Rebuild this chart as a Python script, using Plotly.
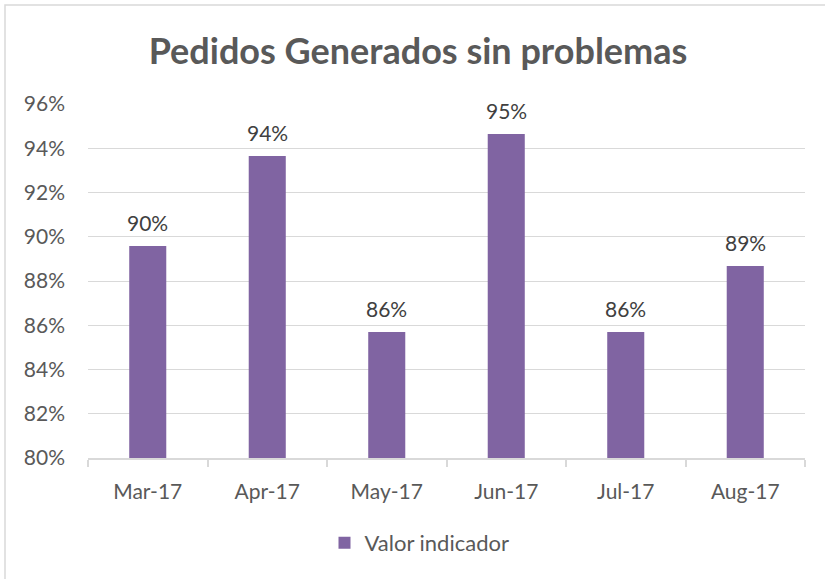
import plotly.graph_objects as go

# Monthly share of orders generated without problems
months = ["Mar-17", "Apr-17", "May-17", "Jun-17", "Jul-17", "Aug-17"]
valor_indicador = [0.8958, 0.9365, 0.8570, 0.9464, 0.8570, 0.8868]
series_name = "Valor indicador"
y_ticks = [0.80, 0.82, 0.84, 0.86, 0.88, 0.90, 0.92, 0.94, 0.96]

W, H = 825, 579
L, R, T, B = 88, 20, 104, 121
pw, ph = W - L - R, H - T - B

font_family = "Lato, 'Open Sans', sans-serif"
text_col = "#595959"
label_col = "#404040"

fig = go.Figure()
fig.add_trace(go.Bar(
    x=months,
    y=valor_indicador,
    name=series_name,
    marker=dict(color="#8064A2", line=dict(width=0)),
))

# value labels above each bar
for m, v in zip(months, valor_indicador):
    fig.add_annotation(
        x=m, y=v, xref="x", yref="y",
        text=f"{v:.0%}", showarrow=False,
        yanchor="bottom", yshift=9,
        font=dict(size=21, color=label_col, family=font_family),
    )

fig.update_layout(
    width=W, height=H,
    margin=dict(l=L, r=R, t=T, b=B),
    paper_bgcolor="white",
    plot_bgcolor="white",
    bargap=0.69,
    title=dict(
        text="<b>Pedidos Generados sin problemas</b>",
        x=(418 - L) / pw, xref="paper", xanchor="center",
        y=1 - 51 / H, yanchor="middle",
        font=dict(size=36, color=text_col, family=font_family),
    ),
    showlegend=True,
    legend=dict(
        orientation="h",
        x=0.5 - 27 / pw, xanchor="center",
        y=-(543 - (T + ph)) / ph, yanchor="middle",
        font=dict(size=22, color=text_col, family=font_family),
        itemwidth=30,
    ),
    font=dict(family=font_family, color=text_col),
    shapes=[dict(
        type="rect", xref="paper", yref="paper",
        x0=(5 - L) / pw, x1=(W + 10 - L) / pw,
        y0=-(H + 10 - T - ph) / ph, y1=(T + ph - 5) / ph,
        line=dict(color="#D9D9D9", width=1.5),
        fillcolor="rgba(0,0,0,0)", layer="below",
    )],
)

fig.update_yaxes(
    range=[0.80, 0.96],
    tickvals=y_ticks,
    tickformat=".0%",
    showgrid=True, gridcolor="#D9D9D9", gridwidth=1.3,
    zeroline=False, showline=False,
    ticks="", ticklen=0,
    tickfont=dict(size=21, color=text_col, family=font_family),
    ticklabelstandoff=22,
)
fig.update_xaxes(
    type="category",
    showgrid=False,
    showline=True, linecolor="#D9D9D9", linewidth=1.5,
    ticks="outside", tickson="boundaries", ticklen=7,
    tickcolor="#D9D9D9", tickwidth=1.5,
    tickfont=dict(size=21, color=text_col, family=font_family),
    ticklabelstandoff=14,
)

fig.write_html("out.html")
